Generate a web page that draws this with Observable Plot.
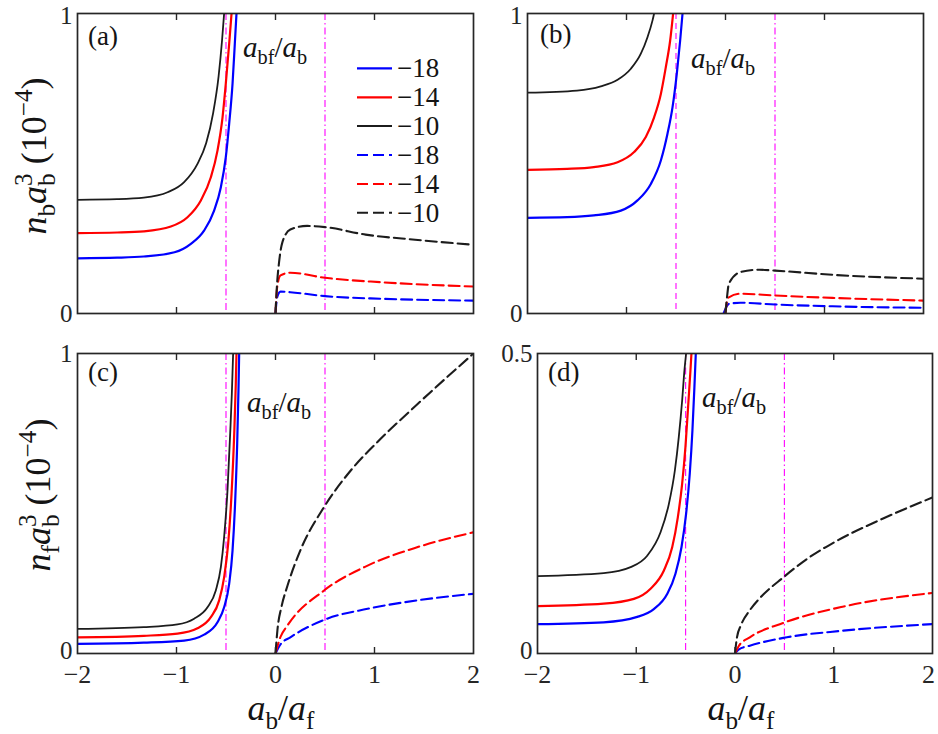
<!DOCTYPE html>
<html><head><meta charset="utf-8">
<script src="https://cdn.jsdelivr.net/npm/d3@7"></script>
<script src="https://cdn.jsdelivr.net/npm/@observablehq/plot@0.6"></script>
<style>
html,body{margin:0;padding:0;background:#fff;}
#wrap{position:relative;width:938px;height:734px;overflow:hidden;background:#fff;}
#wrap svg{position:absolute;overflow:visible;}
</style></head><body><div id="wrap"></div>
<script>
// ---------- data ----------
const xTicks = [-2, -1, 0, 1, 2];
const xTickLabels = ["−2", "−1", "0", "1", "2"];
const innerXTicks = [-1, 0, 1];
const legendLabels = ["−18", "−14", "−10", "−18", "−14", "−10"];
const seriesColors = ["#0000ff", "#ff0000", "#1c1c1c"];
const markerLines = [-0.5, 0.5];
const panelLetters = ["(a)", "(b)", "(c)", "(d)"];

// panel (a): n_b a_b^3
const aSolidM18 = [[-2,0.184],[-1.6,0.186],[-1.33,0.19],[-1.02,0.204],[-0.855,0.232],[-0.72,0.277],[-0.62,0.343],[-0.552,0.421],[-0.502,0.521],[-0.468,0.632],[-0.434,0.766],[-0.411,0.899],[-0.394,1.0]];
const aSolidM14 = [[-2,0.268],[-1.6,0.27],[-1.33,0.274],[-1.057,0.29],[-0.889,0.321],[-0.754,0.377],[-0.653,0.454],[-0.586,0.543],[-0.535,0.654],[-0.502,0.766],[-0.468,0.899],[-0.444,1.0]];
const aSolidM10 = [[-2,0.379],[-1.6,0.381],[-1.33,0.386],[-1.09,0.404],[-0.923,0.438],[-0.788,0.499],[-0.7,0.568],[-0.63,0.668],[-0.575,0.79],[-0.54,0.91],[-0.519,1.0]];
const aDashM18 = [[0,0],[0.017,0.054],[0.051,0.073],[0.15,0.071],[0.5,0.058],[1.08,0.049],[2,0.043]];
const aDashM14 = [[0,0],[0.017,0.088],[0.051,0.127],[0.15,0.136],[0.5,0.119],[1.08,0.104],[2,0.09]];
const aDashM10 = [[0,0],[0.015,0.095],[0.034,0.165],[0.07,0.238],[0.15,0.28],[0.32,0.292],[0.5,0.288],[0.91,0.263],[1.41,0.246],[2,0.229]];

// panel (b)
const bSolidM18 = [[-2,0.319],[-1.6,0.321],[-1.33,0.327],[-1.057,0.343],[-0.889,0.377],[-0.754,0.432],[-0.653,0.51],[-0.586,0.599],[-0.535,0.688],[-0.492,0.799],[-0.458,0.91],[-0.434,1.0]];
const bSolidM14 = [[-2,0.479],[-1.6,0.482],[-1.33,0.488],[-1.09,0.504],[-0.923,0.538],[-0.805,0.588],[-0.721,0.654],[-0.653,0.732],[-0.603,0.821],[-0.559,0.91],[-0.529,1.0]];
const bSolidM10 = [[-2,0.736],[-1.5,0.743],[-1.26,0.757],[-1.09,0.779],[-0.956,0.816],[-0.855,0.866],[-0.788,0.921],[-0.737,0.977],[-0.721,1.0]];
const bDashM18 = [[-0.02,0],[0.034,0.032],[0.15,0.036],[0.5,0.03],[1.08,0.024],[2,0.019]];
const bDashM14 = [[0,0],[0.012,0.035],[0.034,0.054],[0.15,0.066],[0.5,0.06],[1.08,0.052],[2,0.043]];
const bDashM10 = [[0,0],[0.017,0.06],[0.034,0.099],[0.15,0.138],[0.34,0.146],[0.5,0.143],[1.08,0.129],[2,0.116]];

// panel (c): n_f a_b^3
const cSolidM18 = [[-2,0.032],[-1.33,0.036],[-0.923,0.043],[-0.721,0.063],[-0.586,0.104],[-0.519,0.154],[-0.468,0.232],[-0.434,0.343],[-0.407,0.51],[-0.387,0.699],[-0.374,0.877],[-0.367,1.0]];
const cSolidM14 = [[-2,0.054],[-1.33,0.059],[-0.99,0.066],[-0.788,0.084],[-0.653,0.121],[-0.569,0.177],[-0.519,0.254],[-0.478,0.366],[-0.444,0.532],[-0.417,0.732],[-0.401,0.899],[-0.394,1.0]];
const cSolidM10 = [[-2,0.082],[-1.33,0.088],[-0.99,0.097],[-0.822,0.116],[-0.687,0.154],[-0.603,0.21],[-0.552,0.288],[-0.519,0.388],[-0.485,0.543],[-0.458,0.732],[-0.441,0.866],[-0.428,1.0]];
const cDashM18 = [[0,0],[0.05,0.03],[0.15,0.054],[0.49,0.112],[0.93,0.149],[1.43,0.177],[2,0.199]];
const cDashM14 = [[0,0],[0.05,0.055],[0.12,0.093],[0.49,0.21],[0.93,0.293],[1.43,0.354],[2,0.404]];
const cDashM10 = [[0,0],[0.02,0.08],[0.06,0.155],[0.12,0.225],[0.25,0.343],[0.49,0.488],[0.76,0.61],[1.03,0.705],[1.43,0.83],[2,1.0]];

// panel (d)
const dSolidM18 = [[-2,0.049],[-1.33,0.052],[-0.99,0.061],[-0.822,0.074],[-0.687,0.099],[-0.603,0.133],[-0.542,0.177],[-0.495,0.233],[-0.458,0.3],[-0.431,0.372],[-0.411,0.444],[-0.397,0.5]];
const dSolidM14 = [[-2,0.079],[-1.33,0.083],[-1.024,0.091],[-0.855,0.108],[-0.721,0.138],[-0.636,0.177],[-0.579,0.227],[-0.535,0.283],[-0.502,0.344],[-0.475,0.411],[-0.451,0.472],[-0.441,0.5]];
const dSolidM10 = [[-2,0.129],[-1.33,0.134],[-1.057,0.144],[-0.889,0.163],[-0.754,0.202],[-0.67,0.249],[-0.609,0.305],[-0.569,0.361],[-0.535,0.422],[-0.512,0.472],[-0.495,0.5]];
const dDashM18 = [[0,0],[0.04,0.007],[0.15,0.013],[0.49,0.026],[1.09,0.038],[2,0.049]];
const dDashM14 = [[0,0],[0.04,0.013],[0.15,0.027],[0.49,0.051],[1.09,0.078],[2,0.101]];
const dDashM10 = [[0,0],[0.02,0.027],[0.06,0.047],[0.15,0.072],[0.25,0.092],[0.49,0.127],[0.75,0.16],[1.0,0.185],[1.5,0.225],[2,0.26]];

const yTicksTop = [0, 1], yTickLabelsTop = ["0", "1"];
const yTicksD = [0, 0.5], yTickLabelsD = ["0", "0.5"];

// ---------- drawing ----------
const FONT = '"Liberation Serif", "DejaVu Serif", serif';
const INK = "#262626";
const DASHDOT = "7,3,1.5,3";
const DASH = "11,5";

const panels = [
  {letter: panelLetters[0], left: 0, top: 0, w: 480, h: 330, mL: 77, mR: 7, mT: 13, mB: 17,
   solid: [aSolidM18, aSolidM14, aSolidM10], dashed: [aDashM18, aDashM14, aDashM10],
   yMax: 1, yTicks: yTicksTop, yLabels: yTickLabelsTop, leftDash: DASHDOT, xLabels: false,
   lx: 88, ly: 45, ax: 243, ay: 57},
  {letter: panelLetters[1], left: 480, top: 0, w: 458, h: 330, mL: 47, mR: 15, mT: 13, mB: 17,
   solid: [bSolidM18, bSolidM14, bSolidM10], dashed: [bDashM18, bDashM14, bDashM10],
   yMax: 1, yTicks: yTicksTop, yLabels: yTickLabelsTop, leftDash: "6,4", xLabels: false,
   lx: 60, ly: 43, ax: 211, ay: 68},
  {letter: panelLetters[2], left: 0, top: 330, w: 480, h: 404, mL: 77, mR: 7, mT: 23, mB: 81,
   solid: [cSolidM18, cSolidM14, cSolidM10], dashed: [cDashM18, cDashM14, cDashM10],
   yMax: 1, yTicks: yTicksTop, yLabels: yTickLabelsTop, leftDash: DASHDOT, xLabels: true,
   lx: 88, ly: 51, ax: 247, ay: 82},
  {letter: panelLetters[3], left: 480, top: 330, w: 458, h: 404, mL: 57, mR: 6, mT: 23, mB: 81,
   solid: [dSolidM18, dSolidM14, dSolidM10], dashed: [dDashM18, dDashM14, dDashM10],
   yMax: 0.5, yTicks: yTicksD, yLabels: yTickLabelsD, leftDash: DASHDOT, xLabels: true,
   lx: 68, ly: 51, ax: 222, ay: 77}
];

function rich(svg, x, y, parts, size, anchor, rotate) {
  const t = svg.append("text").attr("x", x).attr("y", y)
    .attr("font-family", FONT).attr("font-size", size).attr("fill", "#141414")
    .attr("text-anchor", anchor || "start");
  if (rotate) t.attr("transform", `rotate(${rotate},${x},${y})`);
  let shift = 0;
  parts.forEach(p => {
    const s = t.append("tspan").text(p.t);
    if (p.i) s.attr("font-style", "italic");
    const target = p.sub ? size * 0.24 : p.sup ? -size * 0.4 : 0;
    const dy = target - shift; shift = target;
    if (dy) s.attr("dy", dy.toFixed(2));
    if (p.sub || p.sup) s.attr("font-size", (size * 0.7).toFixed(1));
    if (p.dx) s.attr("dx", p.dx);
  });
  return t;
}

const wrap = d3.select("#wrap");
const lineW = [2.2, 2.2, 1.8];
const fmtX = d => xTickLabels[xTicks.indexOf(d)];

panels.forEach((p, k) => {
  const fmtY = d => p.yLabels[p.yTicks.indexOf(d)];
  const marks = [
    Plot.ruleX([markerLines[0]], {stroke: "#ff00ff", strokeWidth: 1.1, strokeDasharray: p.leftDash}),
    Plot.ruleX([markerLines[1]], {stroke: "#ff00ff", strokeWidth: 1.1, strokeDasharray: DASHDOT})
  ];
  p.solid.forEach((c, i) => marks.push(Plot.line(c, {x: d => d[0], y: d => d[1], stroke: seriesColors[i], strokeWidth: lineW[i], curve: "monotone-x", clip: true})));
  p.dashed.forEach((c, i) => marks.push(Plot.line(c, {x: d => d[0], y: d => d[1], stroke: seriesColors[i], strokeWidth: 2.1, strokeDasharray: DASH, curve: "monotone-x", clip: true})));
  marks.push(Plot.frame({stroke: INK, strokeWidth: 1.7}));
  marks.push(Plot.axisX(innerXTicks, {anchor: "bottom", tickSize: -6, fill: "none", stroke: INK, strokeWidth: 1.4, label: null}));
  marks.push(Plot.axisX(innerXTicks, {anchor: "top", tickSize: -6, fill: "none", stroke: INK, strokeWidth: 1.4, label: null}));
  if (p.xLabels) {
    marks.push(Plot.axisX(xTicks.slice(0, 4), {anchor: "bottom", tickSize: 0, tickPadding: 11, stroke: "none", fill: INK, fontSize: 26, label: null, tickFormat: fmtX}));
    marks.push(Plot.axisX(xTicks.slice(4), {anchor: "bottom", tickSize: 0, tickPadding: 11, stroke: "none", fill: INK, fontSize: 26, label: null, tickFormat: fmtX, dx: k === 3 ? -4 : 0}));
  }
  marks.push(Plot.axisY(p.yTicks.slice(0, 1), {anchor: "left", tickSize: 0, tickPadding: 5, stroke: "none", fill: INK, fontSize: 25, label: null, tickFormat: fmtY, dy: p.xLabels ? -3 : 0}));
  marks.push(Plot.axisY(p.yTicks.slice(1), {anchor: "left", tickSize: 0, tickPadding: 5, stroke: "none", fill: INK, fontSize: 25, label: null, tickFormat: fmtY, dy: p.xLabels ? 0 : 2}));

  const chart = Plot.plot({
    width: p.w, height: p.h,
    marginLeft: p.mL, marginRight: p.mR, marginTop: p.mT, marginBottom: p.mB,
    x: {domain: [-2, 2]},
    y: {domain: [0, p.yMax]},
    style: {fontFamily: FONT, fontSize: "26px", background: "transparent", overflow: "visible"},
    marks
  });
  chart.style.left = p.left + "px";
  chart.style.top = p.top + "px";
  wrap.node().appendChild(chart);
  const svg = d3.select(chart);

  // panel letter
  svg.append("text").attr("x", p.lx).attr("y", p.ly).attr("font-family", FONT)
    .attr("text-anchor", "start")
    .attr("font-size", 27).attr("fill", "#141414").text(p.letter);
  // a_bf / a_b annotation
  rich(svg, p.ax, p.ay, [{t: "a", i: true}, {t: "bf", sub: true}, {t: "/"}, {t: "a", i: true}, {t: "b", sub: true}], 29);

  const S = 36;
  if (k === 0 || k === 2) {
    rich(svg, k === 0 ? 46 : 50, k === 0 ? 156 : 165, [
      {t: "n", i: true}, {t: k === 0 ? "b" : "f", sub: true}, {t: "a", i: true}, {t: "b", sub: true},
      {t: "3", sup: true, dx: -(S * 0.35).toFixed(1)}, {t: " (10"}, {t: "−4", sup: true}, {t: ")"}
    ], S, "middle", -90);
  }
  if (k >= 2) {
    rich(svg, k === 2 ? 281 : 261, 390, [
      {t: "a", i: true}, {t: "b", sub: true}, {t: "/"}, {t: "a", i: true}, {t: "f", sub: true}
    ], S, "middle");
  }
  if (k === 0) {
    const rows = [68.3, 97.3, 126, 155, 184, 212.7];
    legendLabels.forEach((lab, i) => {
      const ci = i % 3, dashed = i >= 3;
      svg.append("line").attr("x1", 357).attr("x2", 392).attr("y1", rows[i]).attr("y2", rows[i])
        .attr("stroke", seriesColors[ci]).attr("stroke-width", dashed ? 2.1 : lineW[ci])
        .attr("stroke-dasharray", dashed ? DASH : null);
      svg.append("text").attr("x", 397).attr("y", rows[i] + 9).attr("font-family", FONT)
        .attr("text-anchor", "start")
        .attr("font-size", 27).attr("fill", "#141414").text(lab);
    });
  }
});
</script></body></html>
